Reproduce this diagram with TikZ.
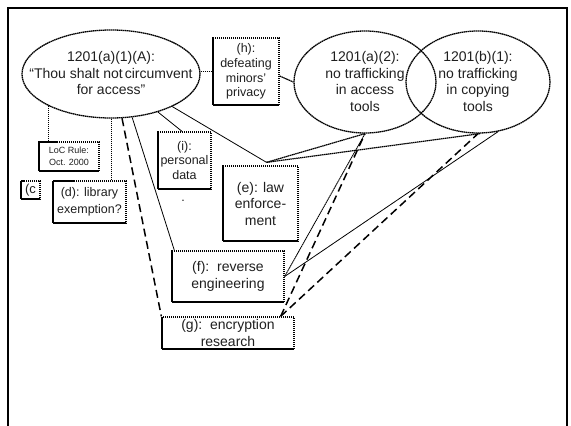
\documentclass[tikz,border=0pt]{standalone}
\usepackage{fontspec}
\setmainfont{Liberation Sans}
\usetikzlibrary{shapes.geometric,calc}
\begin{document}
\begin{tikzpicture}[x=1pt,y=-1pt,
  bord/.style={draw, line width=1.3pt, dash pattern=on 1.5pt off 0.5pt},
  ell/.style={bord, ellipse, inner sep=0pt},
  box/.style={bord, rectangle, inner sep=0pt, align=center, text=black!88},
  txt/.style={align=center, inner sep=0pt, text=black!88},
  big/.style={font=\fontsize{14}{16.5}\selectfont},
  mid/.style={font=\fontsize{12.5}{14.7}\selectfont},
  small/.style={font=\fontsize{9}{11.5}\selectfont},
  dotline/.style={line width=1.2pt, dash pattern=on 1.5pt off 0.5pt},
  thinline/.style={line width=0.8pt},
  longdash/.style={line width=1.5pt, dash pattern=on 8pt off 4.5pt}
]
\useasboundingbox (0,0) rectangle (571,426);
% frame
\draw[line width=1.8pt] (8,430) -- (8,8) -- (567,8) -- (567,430);

% ellipses
\node[ell, minimum width=178pt, minimum height=88pt] (A) at (111,74) {};
\node[txt, big] (At) at (111,73) {1201(a)(1)(A):\\“Thou shalt not\hspace{2pt}circumvent\\for access”};
\node[ell, minimum width=142pt, minimum height=102pt] (a2) at (365,82) {};
\node[txt, big] (a2t) at (365,81.5) {1201(a)(2):\\no trafficking\\in access\\tools};
\node[ell, minimum width=144pt, minimum height=102pt] (b1) at (478,82) {};
\node[txt, big] (b1t) at (478,81.5) {1201(b)(1):\\no trafficking\\in copying\\tools};

% boxes
\node[box, mid, minimum width=66pt, minimum height=67pt] (h) at (246,71.5) {(h):\\defeating\\minors’\\privacy};
\node[box, small, minimum width=60pt, minimum height=29pt] (loc) at (69,156.5) {LoC Rule:\\Oct. 2000};
\node[box, font=\fontsize{13}{15}\selectfont, minimum width=19pt, minimum height=18pt] (c) at (30.5,190) {(c};
\node[box, font=\fontsize{12.5}{16.5}\selectfont, minimum width=73pt, minimum height=42pt] (d) at (89.5,202) {(d): library\\exemption?};
\node[box, font=\fontsize{12.5}{14.5}\selectfont, minimum width=53pt, minimum height=57pt] (i) at (184.5,160.5) {(i):\\personal\\data};
\node[txt, mid, anchor=base] (idot) at (183,201) {.};
\node[box, big, minimum width=75pt, minimum height=75pt] (e) at (260.5,203.5) {(e): law\\enforce-\\ment};
\node[box, big, minimum width=112pt, minimum height=51pt] (f) at (228,276.5) {(f):\ \ reverse\\engineering};
\node[box, big, minimum width=132pt, minimum height=32pt] (g) at (228,333) {(g):\ \ encryption\\research};

% connection points
\coordinate (etop) at ([xshift=6pt,yshift=3pt]e.north);
\coordinate (gtr) at ([xshift=-14pt]g.north east);

% dotted connectors
\draw[dotline] (A.east |- h.west) -- (h.west);
\draw[dotline] ([yshift=-4.5pt]h.east) -- ($(a2.center)!1!(a2.180)$ |- [yshift=-4.5pt]h.east);
\draw[dotline] (A.207.7) -- (A.207.7 |- loc.north);
\draw[dotline] (A.271.3) -- (A.271.3 |- d.north);
\draw[dotline] (etop) -- (a2.south);
\draw[dotline] (etop) -- ([xshift=2pt]b1.south);
\draw[dotline, line width=0.9pt] (f.east) -- (a2.south);

% thin solid connectors
\draw[thinline] (A.321.6) -- ([xshift=-2.5pt]i.north);
\draw[thinline] (A.332) -- (etop);
\draw[thinline] (A.296) -- ([xshift=3pt]f.north west);
\draw[thinline] (f.east) -- (b1.292);

% long dashed connectors
\draw[longdash] (A.284) -- (g.north west);
\draw[longdash] (gtr) -- (a2.south);
\draw[longdash] (gtr) -- (b1.south);
\end{tikzpicture}
\end{document}
